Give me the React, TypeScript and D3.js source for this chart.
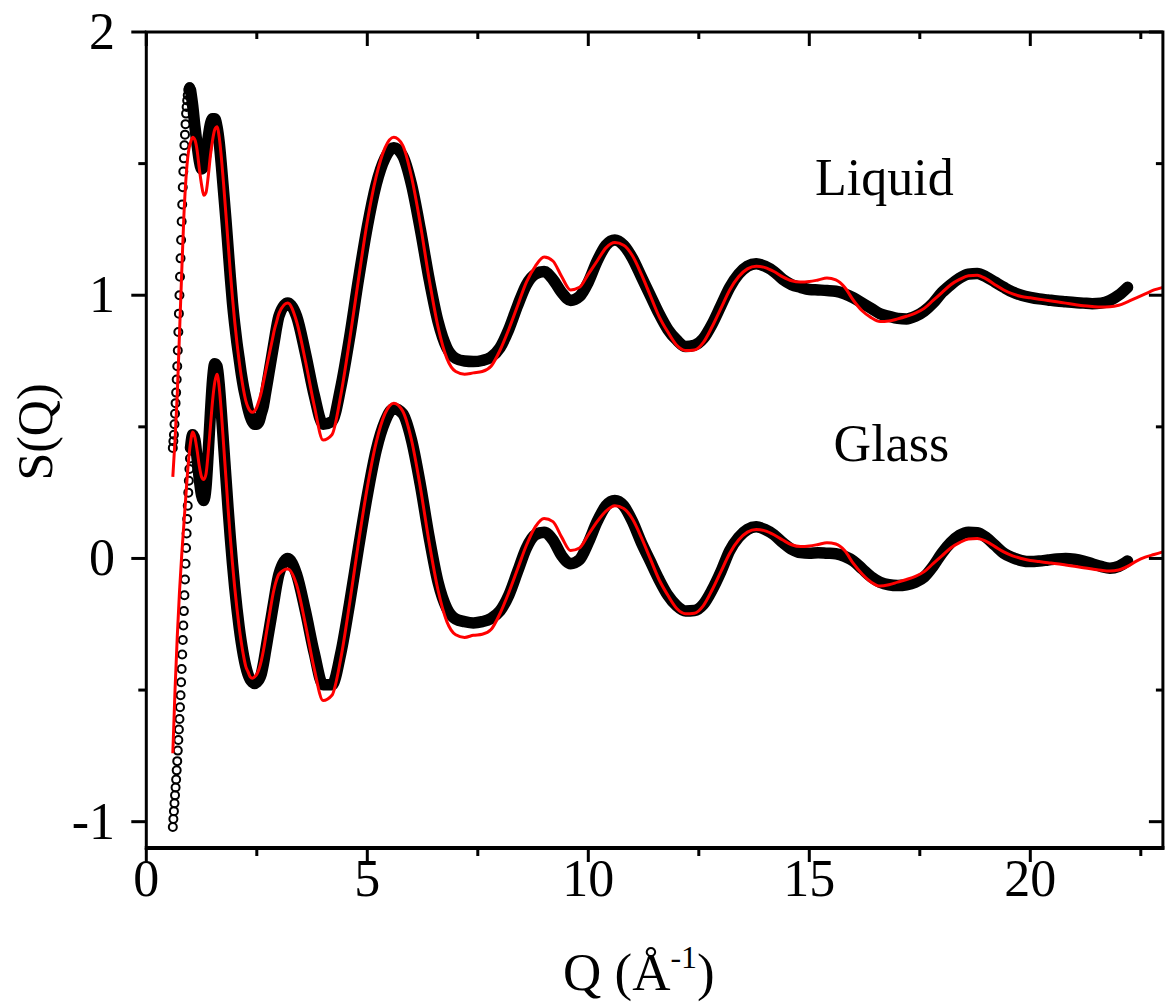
import React, { useEffect, useRef } from "react";
import * as d3 from "d3";

// Q grid of the measured points (Å^-1)
const qExp = [
  0.6, 0.6125, 0.625, 0.6375, 0.65, 0.6625, 0.675, 0.6875, 0.7, 0.7125, 0.725, 0.7375,
  0.75, 0.7625, 0.775, 0.7875, 0.8, 0.8125, 0.825, 0.8375, 0.85, 0.8625, 0.875, 0.8875,
  0.9, 0.9125, 0.925, 0.9375, 0.95, 0.9625, 0.975, 0.9875, 1.0,
  1.05, 1.1, 1.15, 1.2, 1.25, 1.3, 1.35, 1.4, 1.45, 1.5, 1.55, 1.6, 1.65, 1.7, 1.75, 1.8,
  1.85, 1.9, 1.95, 2.0, 2.05, 2.1, 2.15, 2.2, 2.25, 2.3, 2.35, 2.4, 2.45, 2.5, 2.55, 2.6,
  2.65, 2.7, 2.75, 2.8, 2.85, 2.9, 2.95, 3.0,
  3.2, 3.4, 3.6, 3.8, 4.0, 4.2, 4.4, 4.6, 4.8, 5.0, 5.2, 5.4, 5.6, 5.8, 6.0, 6.2, 6.4, 6.6,
  6.8, 7.0, 7.2, 7.4, 7.6, 7.8, 8.0, 8.2, 8.4, 8.6, 8.8, 9.0, 9.2, 9.4, 9.6, 9.8, 10.0,
  10.2, 10.4, 10.6, 10.8, 11.0, 11.2, 11.4, 11.6, 11.8, 12.0, 12.2, 12.4, 12.6, 12.8, 13.0,
  13.2, 13.4, 13.6, 13.8, 14.0, 14.2, 14.4, 14.6, 14.8, 15.0, 15.2, 15.4, 15.6, 15.8, 16.0,
  16.2, 16.4, 16.6, 16.8, 17.0, 17.2, 17.4, 17.6, 17.8, 18.0, 18.2, 18.4, 18.6, 18.8, 19.0,
  19.2, 19.4, 19.6, 19.8, 20.0, 20.2, 20.4, 20.6, 20.8, 21.0, 21.2, 21.4, 21.6, 21.8, 22.0,
  22.2,
];

// liquid, measured (plotted shifted up by 1)
const liquidExp = [
  0.42, 0.445, 0.47, 0.51, 0.55, 0.59, 0.63, 0.68, 0.73, 0.79, 0.86, 0.93, 1.0, 1.07, 1.14,
  1.21, 1.28, 1.345, 1.41, 1.47, 1.52, 1.57, 1.61, 1.65, 1.69, 1.715, 1.74, 1.76, 1.78,
  1.785, 1.79, 1.79, 1.78,
  1.72, 1.64, 1.57, 1.51, 1.48, 1.49, 1.54, 1.6, 1.65, 1.67, 1.67, 1.64, 1.58, 1.49, 1.39,
  1.29, 1.18, 1.07, 0.97, 0.89, 0.82, 0.76, 0.7, 0.65, 0.61, 0.57, 0.54, 0.52, 0.51, 0.51,
  0.52, 0.55, 0.58, 0.63, 0.68, 0.73, 0.78, 0.83, 0.88, 0.92,
  0.97, 0.92, 0.78, 0.62, 0.51,
  0.52, 0.65, 0.84, 1.06, 1.26,
  1.42, 1.52, 1.56, 1.53, 1.42,
  1.25, 1.06, 0.9, 0.8, 0.76,
  0.75, 0.748, 0.752, 0.765, 0.8,
  0.87, 0.96, 1.04, 1.08, 1.09,
  1.06, 1.01, 0.98, 0.995, 1.05,
  1.13, 1.19, 1.21, 1.19, 1.14,
  1.07, 1.0, 0.93, 0.87, 0.83,
  0.805, 0.81, 0.835, 0.89, 0.96,
  1.03, 1.08, 1.11, 1.12, 1.11,
  1.09, 1.06, 1.04, 1.03, 1.022,
  1.02, 1.018, 1.015, 1.005, 0.99,
  0.97, 0.95, 0.93, 0.92, 0.912,
  0.91, 0.92, 0.94, 0.97, 1.01,
  1.04, 1.065, 1.08, 1.083, 1.07,
  1.05, 1.03, 1.012, 1.0, 0.992,
  0.986, 0.982, 0.978, 0.975, 0.972,
  0.97, 0.968, 0.97, 0.98, 1.0,
  1.03,
];

// glass, measured
const glassExp = [
  -1.02, -0.99, -0.96, -0.93, -0.9, -0.87, -0.84, -0.805, -0.77, -0.73, -0.69, -0.65, -0.61,
  -0.565, -0.52, -0.47, -0.42, -0.365, -0.31, -0.255, -0.2, -0.14, -0.08, -0.02, 0.04, 0.095,
  0.15, 0.2, 0.25, 0.295, 0.34, 0.38, 0.42,
  0.47, 0.45, 0.38, 0.3, 0.24, 0.22, 0.27, 0.4, 0.55, 0.68, 0.74, 0.73, 0.66, 0.55, 0.43,
  0.31, 0.19, 0.08, -0.02, -0.11, -0.19, -0.26, -0.32, -0.37, -0.41, -0.44, -0.46, -0.47,
  -0.475, -0.47, -0.46, -0.44, -0.4, -0.35, -0.3, -0.25, -0.2, -0.15, -0.1, -0.06,
  0.0, -0.06, -0.2, -0.36, -0.48,
  -0.48, -0.36, -0.17, 0.04, 0.24,
  0.41, 0.52, 0.57, 0.55, 0.45,
  0.28, 0.08, -0.09, -0.19, -0.23,
  -0.24, -0.245, -0.24, -0.228, -0.2,
  -0.14, -0.05, 0.04, 0.09, 0.1,
  0.07, 0.01, -0.02, -0.005, 0.06,
  0.14, 0.2, 0.22, 0.2, 0.14,
  0.06, -0.01, -0.08, -0.14, -0.18,
  -0.2, -0.198, -0.175, -0.12, -0.05,
  0.03, 0.08, 0.11, 0.12, 0.11,
  0.09, 0.06, 0.035, 0.022, 0.02,
  0.022, 0.02, 0.018, 0.008, -0.01,
  -0.04, -0.07, -0.09, -0.1, -0.103,
  -0.1, -0.09, -0.07, -0.03, 0.02,
  0.06, 0.088, 0.1, 0.098, 0.08,
  0.05, 0.02, 0.003, -0.008, -0.012,
  -0.01, -0.006, -0.002, 0.0, -0.003,
  -0.01, -0.02, -0.03, -0.037, -0.03,
  -0.01,
];

// Q grid of the model curves
const qFit = [
  0.6, 0.65, 0.7, 0.75, 0.8, 0.85, 0.9, 0.95, 1.0, 1.05, 1.1, 1.15, 1.2, 1.25, 1.3, 1.35,
  1.4, 1.45, 1.5, 1.55, 1.6, 1.65, 1.7, 1.75, 1.8, 1.85, 1.9, 1.95, 2.0, 2.05, 2.1, 2.15,
  2.2, 2.25, 2.3, 2.35, 2.4, 2.45, 2.5, 2.55, 2.6, 2.65, 2.7, 2.75, 2.8, 2.85, 2.9, 2.95, 3.0,
  3.2, 3.4, 3.6, 3.8, 4.0, 4.2, 4.4, 4.6, 4.8, 5.0, 5.2, 5.4, 5.6, 5.8, 6.0, 6.2, 6.4, 6.6,
  6.8, 7.0, 7.2, 7.4, 7.6, 7.8, 8.0, 8.2, 8.4, 8.6, 8.8, 9.0, 9.2, 9.4, 9.6, 9.8, 10.0,
  10.2, 10.4, 10.6, 10.8, 11.0, 11.2, 11.4, 11.6, 11.8, 12.0, 12.2, 12.4, 12.6, 12.8, 13.0,
  13.2, 13.4, 13.6, 13.8, 14.0, 14.2, 14.4, 14.6, 14.8, 15.0, 15.2, 15.4, 15.6, 15.8, 16.0,
  16.2, 16.4, 16.6, 16.8, 17.0, 17.2, 17.4, 17.6, 17.8, 18.0, 18.2, 18.4, 18.6, 18.8, 19.0,
  19.2, 19.4, 19.6, 19.8, 20.0, 20.2, 20.4, 20.6, 20.8, 21.0, 21.2, 21.4, 21.6, 21.8, 22.0,
  22.2, 22.4, 22.6, 22.8, 23.0,
];

const liquidFit = [
  0.31, 0.45, 0.62, 0.85, 1.08, 1.3, 1.45, 1.54, 1.58, 1.6, 1.59, 1.55, 1.48, 1.42, 1.38,
  1.39, 1.45, 1.53, 1.59, 1.63, 1.64,
  1.6, 1.52, 1.42, 1.31, 1.2, 1.09, 0.99, 0.9, 0.82, 0.75, 0.69, 0.64, 0.6, 0.575, 0.56,
  0.555, 0.56, 0.575, 0.6, 0.63, 0.67, 0.71, 0.75, 0.79, 0.83, 0.87, 0.9, 0.93,
  0.97, 0.9, 0.75, 0.58, 0.45,
  0.47, 0.62, 0.83, 1.06, 1.28,
  1.45, 1.56, 1.6, 1.57, 1.45,
  1.27, 1.06, 0.88, 0.76, 0.71,
  0.7, 0.705, 0.71, 0.73, 0.79,
  0.87, 0.96, 1.05, 1.11, 1.145,
  1.13, 1.07, 1.02, 1.03, 1.08,
  1.13, 1.18, 1.2, 1.19, 1.15,
  1.08, 1.0, 0.92, 0.86, 0.81,
  0.79, 0.792, 0.82, 0.88, 0.95,
  1.02, 1.07, 1.1, 1.11, 1.105,
  1.09, 1.07, 1.055, 1.05, 1.052,
  1.058, 1.065, 1.058, 1.03, 0.98,
  0.94, 0.915, 0.9, 0.902, 0.91,
  0.92, 0.932, 0.95, 0.98, 1.01,
  1.04, 1.06, 1.074, 1.076, 1.062,
  1.04, 1.02, 1.005, 0.995, 0.99,
  0.985, 0.98, 0.975, 0.97, 0.965,
  0.96, 0.957, 0.955, 0.956, 0.962,
  0.975, 0.99, 1.005, 1.02, 1.03,
];

const glassFit = [
  -0.74, -0.5, -0.3, -0.13, 0.01, 0.13, 0.25, 0.36, 0.44, 0.48, 0.46, 0.41, 0.35, 0.31, 0.3,
  0.32, 0.4, 0.5, 0.6, 0.67, 0.7,
  0.65, 0.55, 0.43, 0.31, 0.19, 0.08, -0.02, -0.11, -0.19, -0.26, -0.32, -0.37, -0.41,
  -0.43, -0.45, -0.455, -0.45, -0.44, -0.42, -0.39, -0.35, -0.3, -0.25, -0.2, -0.15, -0.11,
  -0.08, -0.06,
  -0.04, -0.1, -0.25, -0.42, -0.54,
  -0.52, -0.38, -0.17, 0.06, 0.27,
  0.44, 0.55, 0.59, 0.56, 0.45,
  0.27, 0.06, -0.12, -0.24, -0.29,
  -0.3, -0.292, -0.288, -0.27, -0.21,
  -0.13, -0.04, 0.05, 0.12, 0.152,
  0.14, 0.08, 0.03, 0.04, 0.09,
  0.14, 0.18, 0.2, 0.19, 0.15,
  0.08, 0.0, -0.08, -0.14, -0.19,
  -0.21, -0.208, -0.18, -0.12, -0.05,
  0.02, 0.07, 0.1, 0.11, 0.105,
  0.09, 0.07, 0.052, 0.045, 0.047,
  0.053, 0.06, 0.055, 0.03, -0.02,
  -0.06, -0.09, -0.105, -0.1, -0.09,
  -0.08, -0.068, -0.05, -0.02, 0.01,
  0.04, 0.06, 0.074, 0.076, 0.065,
  0.045, 0.025, 0.01, 0.0, -0.008,
  -0.012, -0.016, -0.02, -0.025, -0.03,
  -0.035, -0.04, -0.045, -0.048, -0.044,
  -0.03, -0.01, 0.005, 0.015, 0.025,
];

const xMajor = [0, 5, 10, 15, 20];
const xMinor = [2.5, 7.5, 12.5, 17.5, 22.5];
const yMajor = [-1, 0, 1, 2];
const yMinor = [-0.5, 0.5, 1.5];
const labels = [
  { text: "Liquid", q: 15.13, s: 1.38 },
  { text: "Glass", q: 15.55, s: 0.37 },
];

const FONT = "'Liberation Serif', 'Times New Roman', serif";
const BAND_FROM = 1.0; // the measured points blend into a solid band after the first peak

export default function App() {
  const ref = useRef<SVGSVGElement>(null);

  useEffect(() => {
    const width = 1168;
    const height = 1002;
    const svg = d3.select(ref.current);
    svg.selectAll("*").remove();

    const x = d3.scaleLinear().domain([0, 23]).range([146.3, 1162.9]);
    const y = d3.scaleLinear().domain([-1.1, 2]).range([848, 32]);

    svg.append("rect").attr("width", width).attr("height", height).attr("fill", "#fff");

    // measured data: open circles
    const drawExp = (vals: number[]) => {
      const pts = qExp.map((q, i) => [q, vals[i]] as [number, number]).filter((d) => d[1] != null);
      const band = d3
        .line<[number, number]>()
        .defined((d) => d[0] >= BAND_FROM)
        .x((d) => x(d[0]))
        .y((d) => y(d[1]))
        .curve(d3.curveMonotoneX);
      svg
        .append("path")
        .attr("d", band(pts))
        .attr("fill", "none")
        .attr("stroke", "#000")
        .attr("stroke-width", 11.5)
        .attr("stroke-linejoin", "round")
        .attr("stroke-linecap", "round");
      svg
        .append("g")
        .selectAll("circle")
        .data(pts)
        .join("circle")
        .attr("cx", (d) => x(d[0]))
        .attr("cy", (d) => y(d[1]))
        .attr("r", 4)
        .attr("fill", "none")
        .attr("stroke", "#000")
        .attr("stroke-width", 2);
    };
    drawExp(liquidExp);
    drawExp(glassExp);

    // model curves: red lines
    const fitLine = d3
      .line<number>()
      .x((d, i) => x(qFit[i]))
      .y((d) => y(d))
      .curve(d3.curveMonotoneX);
    [liquidFit, glassFit].forEach((vals) => {
      svg
        .append("path")
        .attr("d", fitLine(vals))
        .attr("fill", "none")
        .attr("stroke", "#ff0000")
        .attr("stroke-width", 3);
    });

    // frame
    const [x0, x1] = x.range();
    const [y0, y1] = y.range();
    svg
      .append("rect")
      .attr("x", x0)
      .attr("y", y1)
      .attr("width", x1 - x0)
      .attr("height", y0 - y1)
      .attr("fill", "none")
      .attr("stroke", "#000")
      .attr("stroke-width", 3);
    svg
      .append("line")
      .attr("x1", x0 - 1.5)
      .attr("x2", x1 + 1.5)
      .attr("y1", y0)
      .attr("y2", y0)
      .attr("stroke", "#000")
      .attr("stroke-width", 4);

    const ticks = svg.append("g").attr("stroke", "#000").attr("stroke-width", 3);
    const tick = (vals: number[], len: number, inner: number) => {
      vals.forEach((v) => {
        ticks.append("line").attr("x1", x(v)).attr("x2", x(v)).attr("y1", y0).attr("y2", y0 + len);
        ticks.append("line").attr("x1", x(v)).attr("x2", x(v)).attr("y1", y1).attr("y2", y1 + inner);
      });
    };
    tick(xMajor, 14, 14);
    tick(xMinor, 8, 7);
    const ytick = (vals: number[], len: number, inner: number) => {
      vals.forEach((v) => {
        ticks.append("line").attr("x1", x0).attr("x2", x0 - len).attr("y1", y(v)).attr("y2", y(v));
        ticks.append("line").attr("x1", x1).attr("x2", x1 - inner).attr("y1", y(v)).attr("y2", y(v));
      });
    };
    ytick(yMajor, 15, 14);
    ytick(yMinor, 8, 7);

    // tick labels
    svg
      .append("g")
      .selectAll("text")
      .data(xMajor)
      .join("text")
      .attr("x", (d) => x(d))
      .attr("y", 896)
      .attr("text-anchor", "middle")
      .attr("font-family", FONT)
      .attr("font-size", 52)
      .text((d) => d);
    svg
      .append("g")
      .selectAll("text")
      .data(yMajor)
      .join("text")
      .attr("x", 115)
      .attr("y", (d) => y(d) + 17)
      .attr("text-anchor", "end")
      .attr("font-family", FONT)
      .attr("font-size", 52)
      .text((d) => d);

    // axis titles
    const xt = svg
      .append("text")
      .attr("x", 563)
      .attr("y", 990)
      .attr("font-family", FONT)
      .attr("font-size", 53);
    xt.append("tspan").text("Q (Å");
    xt.append("tspan").attr("font-size", 32).attr("dy", -22).text("-1");
    xt.append("tspan").attr("dy", 22).text(")");

    svg
      .append("text")
      .attr("transform", "translate(52,432) rotate(-90)")
      .attr("text-anchor", "middle")
      .attr("font-family", FONT)
      .attr("font-size", 50)
      .text("S(Q)");

    svg
      .append("g")
      .selectAll("text")
      .data(labels)
      .join("text")
      .attr("x", (d) => x(d.q))
      .attr("y", (d) => y(d.s))
      .attr("font-family", FONT)
      .attr("font-size", 52)
      .text((d) => d.text);
  }, []);

  return (
    <div style={{ position: "absolute", left: 0, top: 0 }}>
      <svg ref={ref} width={1168} height={1002} style={{ display: "block" }} />
    </div>
  );
}
